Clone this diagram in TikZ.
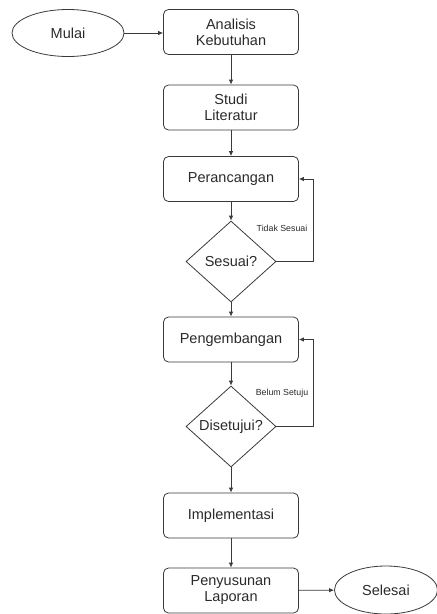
\documentclass[tikz,border=0pt]{standalone}
\usepackage{fontspec}
\setmainfont{Liberation Sans}
\usetikzlibrary{shapes.geometric,arrows.meta}
\definecolor{linec}{HTML}{3A3A3A}
\definecolor{textc}{HTML}{2A2A2A}
\begin{document}
\begin{tikzpicture}[x=1pt,y=-1pt,
  box/.style={draw=linec, rounded corners=5pt, minimum width=135pt, minimum height=45pt,
    align=center, inner sep=0pt, line width=0.8pt, text=textc,
    font=\fontsize{14.5}{16}\selectfont},
  ell/.style={draw=linec, ellipse, minimum width=112pt, minimum height=47pt, inner sep=0pt,
    line width=0.8pt, text=textc, font=\fontsize{14.5}{16}\selectfont},
  dia/.style={draw=linec, diamond, minimum width=90pt, minimum height=81pt, inner sep=0pt,
    line width=0.8pt},
  dtext/.style={text=textc, font=\fontsize{14.5}{16}\selectfont, inner sep=0pt},
  lab/.style={text=textc, font=\fontsize{8.8}{10}\selectfont, inner sep=0pt},
  arr/.style={draw=linec, line width=0.8pt, -{Latex[length=5pt,width=4.5pt]}}
]
\useasboundingbox (0,0) rectangle (437,614);

\node[ell] (mulai) at (68,33) {Mulai};
\node[box] (analisis) at (231,32) {Analisis\\Kebutuhan};
\node[box] (studi) at (231,107.5) {Studi\\Literatur};
\node[box] (perancangan) at (231,179) {Perancangan};
\node[dia] (sesuai) at (231,261.5) {};
\node[dtext] (sesuaitxt) at (sesuai) {Sesuai?};
\node[box] (pengembangan) at (231,339.5) {Pengembangan};
\node[dia] (setuju) at (231,426.5) {};
\node[dtext] (setujutxt) at (setuju) {Disetujui?};
\node[box] (impl) at (231,515.5) {Implementasi};
\node[box] (laporan) at (231,590.5) {Penyusunan\\Laporan};
\node[ell, minimum width=103pt, minimum height=48pt] (selesai) at (386,590) {Selesai};

\coordinate (c1) at (313,261.5);
\coordinate (c2) at (313,426.5);

\draw[arr] (mulai.east) -- (analisis.west |- mulai.east);
\draw[arr] (analisis) -- (studi);
\draw[arr] (studi) -- (perancangan);
\draw[arr] (perancangan) -- (sesuai);
\draw[arr] (sesuai) -- (pengembangan);
\draw[arr] (pengembangan) -- (setuju);
\draw[arr] (setuju) -- (impl);
\draw[arr] (impl) -- (laporan);
\draw[arr] (laporan) -- (selesai);
\draw[arr] (sesuai.east) -- (c1) |- (perancangan.east);
\draw[arr] (setuju.east) -- (c2) |- (pengembangan.east);

\node[lab] (tidak) at (282,228) {Tidak Sesuai};
\node[lab] (belum) at (282,393) {Belum Setuju};
\end{tikzpicture}
\end{document}
